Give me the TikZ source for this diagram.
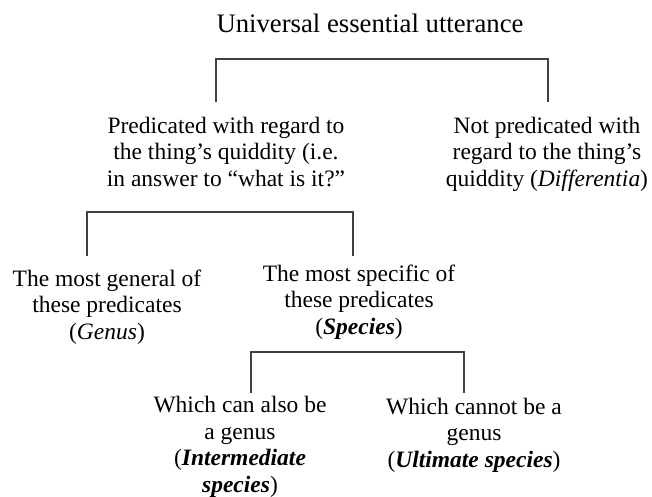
\documentclass[tikz,border=0pt]{standalone}
\usepackage{fontspec}
\setmainfont{Liberation Serif}
\usetikzlibrary{positioning}

\begin{document}
\begin{tikzpicture}[x=1pt, y=-1pt,
    lbl/.style={inner sep=0pt, anchor=base, align=center, font=\fontsize{23.5}{26.5}\selectfont},
    head/.style={lbl, font=\fontsize{26.7}{30}\selectfont},
    bracket/.style={draw=black!75, line width=1.1pt}]
    \useasboundingbox (0,0) rectangle (652,497);
    % levels of the division (base = last line)
    \node[head] (uni) at (370,33) {Universal essential utterance};
    \node[lbl] (pred) at (226,186) {Predicated with regard to\\the thing’s quiddity (i.e.\\in answer to “what is it?”};
    \node[lbl] (diff) at (547,186) {Not predicated with\\regard to the thing’s\\quiddity (\textit{Differentia})};
    \node[lbl] (genus) at (107,339) {The most general of\\these predicates\\(\textit{Genus})};
    \node[lbl] (spec) at (359,334) {The most specific of\\these predicates\\(\textbf{\textit{Species}})};
    \node[lbl] (inter) at (240,492) {Which can also be\\a genus\\(\textbf{\textit{Intermediate}}\\\textbf{\textit{species}})};
    \node[lbl] (ult) at (474,467) {Which cannot be a\\genus\\(\textbf{\textit{Ultimate species}})};
    % brackets
    \coordinate (b1l) at (216,102); \coordinate (b1r) at (548,102);
    \coordinate (b2l) at (87,256);  \coordinate (b2r) at (353,256);
    \coordinate (b3l) at (251,393); \coordinate (b3r) at (464,393);
    \draw[bracket] (b1l) -- ++(0,-43) -| (b1r);
    \draw[bracket] (b2l) -- ++(0,-44) -| (b2r);
    \draw[bracket] (b3l) -- ++(0,-41) -| (b3r);
\end{tikzpicture}
\end{document}
